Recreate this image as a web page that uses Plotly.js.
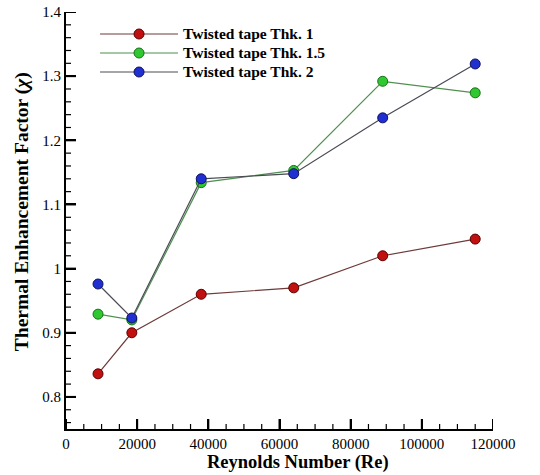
<!DOCTYPE html>
<html><head><meta charset="utf-8">
<script src="https://cdn.plot.ly/plotly-3.0.1.min.js"></script>
<style>html,body{margin:0;padding:0;background:#fff}</style>
</head><body>
<div id="chart" style="width:540px;height:475px"></div>
<script>
// ---- data ----
const seriesNames = ["Twisted tape Thk. 1", "Twisted tape Thk. 1.5", "Twisted tape Thk. 2"];
const reynolds = [9000, 18500, 38000, 64000, 89000, 115000];
const thk1 = [0.836, 0.900, 0.960, 0.970, 1.020, 1.046];
const thk15 = [0.929, 0.920, 1.134, 1.153, 1.292, 1.274];
const thk2 = [0.976, 0.923, 1.140, 1.148, 1.235, 1.319];
const xTickVals = [0, 20000, 40000, 60000, 80000, 100000, 120000];
const yTickVals = [0.8, 0.9, 1.0, 1.1, 1.2, 1.3, 1.4];

// ---- styling ----
const W = 540, H = 475, M = {l: 66, r: 47, t: 12, b: 46};
const xRange = [0, 120000], yRange = [0.75, 1.4];
const plotW = W - M.l - M.r, plotH = H - M.t - M.b;
const lineColors = ["#6e3a3a", "#4f8f4f", "#4a4a55"];
const markerColors = ["#c01010", "#30c830", "#2030d0"];
const markerEdges = ["#5a0000", "#187018", "#101060"];
const serif = "Liberation Serif, Times New Roman, serif";
const ys = [thk1, thk15, thk2];

// inside tick marks drawn along the axes (major + minor)
const xStep = xTickVals[1] - xTickVals[0], yStep = yTickVals[1] - yTickVals[0];
const pxX = (xRange[1] - xRange[0]) / plotW, pxY = (yRange[1] - yRange[0]) / plotH;
function tickTrace(segX, segY, width) {
  return {x: segX, y: segY, type: 'scatter', mode: 'lines', showlegend: false, hoverinfo: 'skip',
          line: {color: '#000', width: width}};
}
function buildTicks(major, len, width) {
  const sx = [], sy = [];
  const xs = [], yv = [];
  if (major) { xs.push(...xTickVals); yv.push(...yTickVals); }
  else {
    for (let i = 0; i < xTickVals.length - 1; i++) for (let k = 1; k < 4; k++) xs.push(xTickVals[i] + k * xStep / 4);
    const yStart = yTickVals[0] - yStep;
    for (let i = -1; i < yTickVals.length - 1; i++) {
      const base = i < 0 ? yStart : yTickVals[i];
      for (let k = 1; k < 5; k++) { const v = base + k * yStep / 5; if (v > yRange[0] + 1e-9) yv.push(v); }
    }
  }
  xs.forEach(v => { sx.push(v, v, null); sy.push(yRange[0], yRange[0] + len * pxY, null); });
  yv.forEach(v => { sx.push(xRange[0], xRange[0] + len * pxX, null); sy.push(v, v, null); });
  return tickTrace(sx, sy, width);
}

const traces = [buildTicks(true, 10, 2), buildTicks(false, 5, 1.2)].concat(ys.map((y, i) => ({
  x: reynolds, y: y, name: '<span style="font-size:15.5px">' + seriesNames[i] + '</span>',
  type: 'scatter', mode: 'lines+markers',
  line: {color: lineColors[i], width: 1.2},
  marker: {color: markerColors[i], size: 10, line: {color: markerEdges[i], width: 1}}
})));

const layout = {
  width: W, height: H, margin: M,
  paper_bgcolor: '#fff', plot_bgcolor: '#fff',
  showlegend: true,
  legend: {x: 0.068, y: 0.982, xanchor: 'left', yanchor: 'top', bgcolor: 'rgba(0,0,0,0)',
    font: {family: serif, size: 12.3, color: '#000', weight: 'bold'}, itemwidth: 78, tracegroupgap: 0},
  xaxis: {
    range: xRange, tickvals: xTickVals, tickformat: 'd',
    showgrid: false, zeroline: false, showline: true, linecolor: '#000', linewidth: 2,
    ticks: 'inside', ticklen: 10, tickwidth: 2, tickcolor: '#000',
    tickfont: {family: serif, size: 15, color: '#000'}
  },
  yaxis: {
    range: yRange, tickvals: yTickVals,
    showgrid: false, zeroline: false, showline: true, linecolor: '#000', linewidth: 2,
    ticks: 'inside', ticklen: 10, tickwidth: 2, tickcolor: '#000',
    tickfont: {family: serif, size: 15, color: '#000'}
  },
  annotations: [
    {text: '<b>Reynolds Number (Re)</b>', xref: 'paper', yref: 'paper', x: 0.543, y: 0,
     xanchor: 'center', yanchor: 'top', yshift: -21, showarrow: false,
     font: {family: serif, size: 18.5, color: '#000'}},
    {text: '<b>Thermal Enhancement Factor (<i>χ</i>)</b>', xref: 'paper', yref: 'paper', x: -0.103, y: 0.52,
     xanchor: 'center', yanchor: 'middle', textangle: -90, showarrow: false,
     font: {family: serif, size: 19.5, color: '#000'}}
  ]
};
Plotly.newPlot('chart', traces, layout, {displayModeBar: false});
</script>
</body></html>
